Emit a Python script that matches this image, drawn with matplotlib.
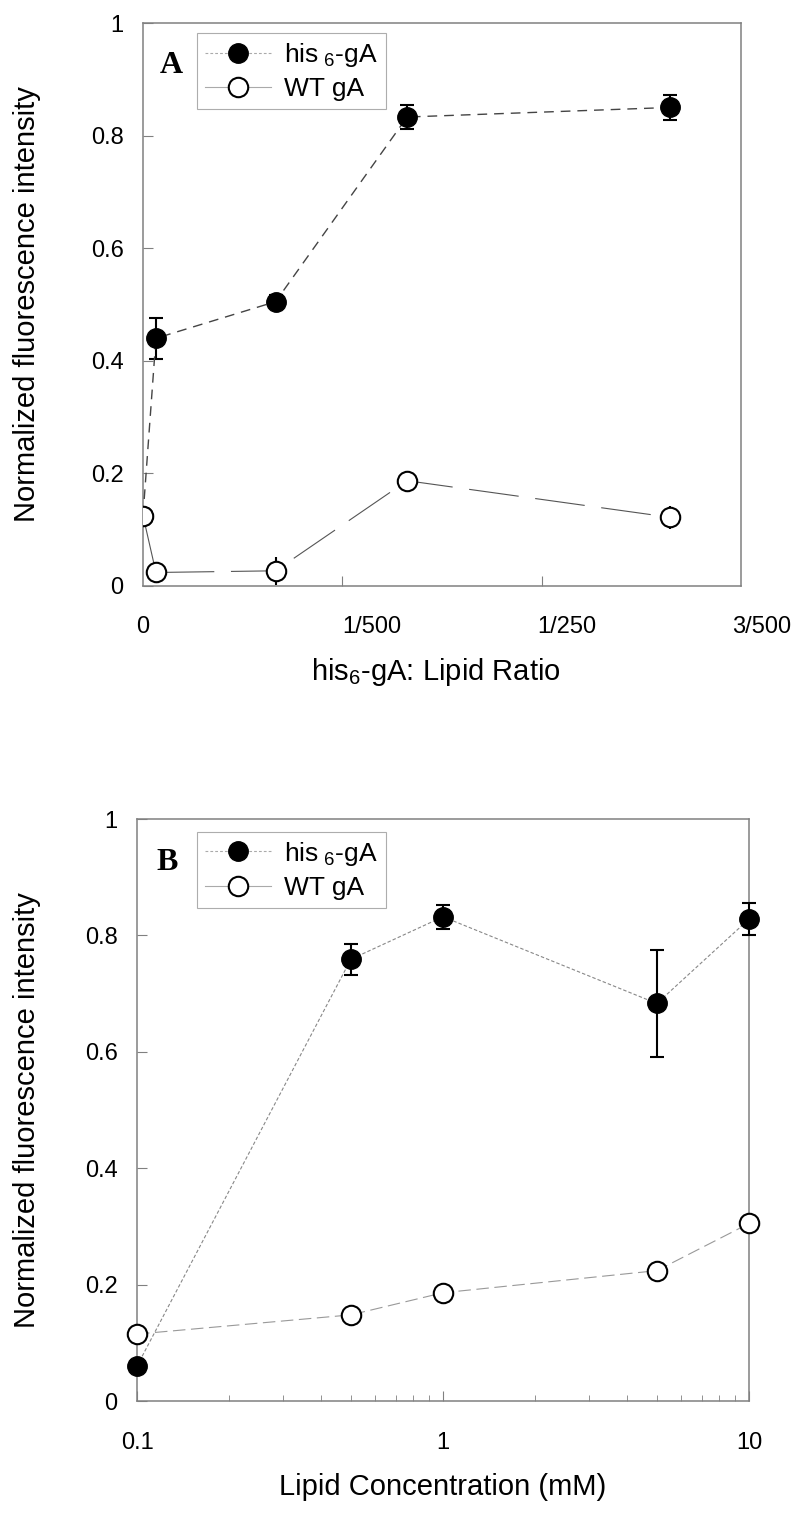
import matplotlib
matplotlib.use('Agg')
from matplotlib import pyplot as plt
from matplotlib.lines import Line2D
from matplotlib.ticker import LogLocator, NullFormatter, FixedLocator

plt.rcParams['font.family'] = ['Liberation Sans', 'DejaVu Sans']
plt.rcParams['mathtext.default'] = 'regular'
plt.rcParams['lines.scale_dashes'] = False

# panel A: his6-gA : lipid ratio
ratio = [0.0, 0.00013, 0.00133, 0.00265, 0.00529]
his_a = [0.125, 0.44, 0.505, 0.833, 0.85]
his_a_err = [0.0, 0.036, 0.012, 0.021, 0.023]
wt_a = [0.125, 0.024, 0.027, 0.187, 0.122]
wt_a_err = [0.0, 0.004, 0.025, 0.005, 0.02]
ratio_ticks = [0.002, 0.004]
ratio_labels = ['0', '1/500', '1/250', '3/500']

# panel B: lipid concentration (mM)
conc = [0.1, 0.5, 1, 5, 10]
his_b = [0.06, 0.759, 0.832, 0.683, 0.828]
his_b_err = [0.01, 0.027, 0.021, 0.092, 0.028]
wt_b = [0.115, 0.148, 0.186, 0.224, 0.305]
wt_b_err = [0.005, 0.005, 0.005, 0.005, 0.005]

ylabel = 'Normalized fluorescence intensity'
SPINE = '#808080'
TICKFS = 17
LABFS = 21

fig = plt.figure(figsize=(8, 15.13), dpi=100)
axA = fig.add_axes([143 / 800, 1 - 586 / 1513, 598 / 800, 563 / 1513])
axB = fig.add_axes([137 / 800, 1 - 1401 / 1513, 612 / 800, 582 / 1513])


def style_axes(ax):
    for s in ax.spines.values():
        s.set_color(SPINE)
        s.set_linewidth(1.1)
    ax.tick_params(which='both', direction='in', top=False, right=False,
                   color=SPINE, labelsize=TICKFS)
    ax.tick_params(axis='y', pad=14)
    ax.tick_params(which='major', length=7, width=0.8)
    ax.tick_params(which='minor', length=4, width=0.6)
    ax.set_ylim(0, 1)
    ax.set_yticks([0, 0.2, 0.4, 0.6, 0.8, 1])
    ax.set_yticklabels(['0', '0.2', '0.4', '0.6', '0.8', '1'])
    ax.set_ylabel(ylabel, fontsize=LABFS)


def legend(ax, x0, top):
    h1 = Line2D([], [], color='#aaaaaa', lw=0.8, dashes=(2, 1.5), marker='o',
                markersize=14, markerfacecolor='black', markeredgecolor='black')
    h2 = Line2D([], [], color='#aaaaaa', lw=0.8, marker='o', markersize=14,
                markerfacecolor='white', markeredgecolor='black', markeredgewidth=1.5)
    leg = ax.legend([h1, h2], ['his$_{\\ 6}$-gA', 'WT gA'], loc='upper left',
                    bbox_to_anchor=(x0, top), borderaxespad=0, fontsize=19,
                    fancybox=False, frameon=True, handlelength=2.5,
                    handletextpad=0.5, borderpad=0.3, labelspacing=0.32)
    leg.get_frame().set_edgecolor('#999999')
    leg.get_frame().set_linewidth(0.8)


# ---- panel A ----
style_axes(axA)
axA.set_xlim(0, 0.006)
axA.xaxis.set_major_locator(FixedLocator(ratio_ticks))
axA.set_xticklabels([])
axA.errorbar(ratio, his_a, yerr=his_a_err, color='#444444', lw=1, dashes=(7, 5),
             marker='o', markersize=14, markerfacecolor='black', markeredgecolor='black',
             ecolor='black', elinewidth=1.5, capsize=5, capthick=1.5, zorder=3)
axA.errorbar(ratio, wt_a, yerr=wt_a_err, color='#555555', lw=0.8, dashes=(36, 12),
             marker='o', markersize=14, markerfacecolor='white', markeredgecolor='black',
             markeredgewidth=1.5, ecolor='black', elinewidth=1.5, capsize=0, zorder=4)
for xf, lab in zip([0.0, 0.383, 0.709, 1.035], ratio_labels):
    axA.text(xf, -0.072, lab, transform=axA.transAxes, ha='center', va='center',
             fontsize=TICKFS)
axA.text(0.49, -0.152, 'his$_6$-gA: Lipid Ratio', transform=axA.transAxes,
         ha='center', va='center', fontsize=LABFS)
axA.text(0.048, 0.925, 'A', transform=axA.transAxes, ha='center', va='center',
         fontsize=23, fontweight='bold', family='Liberation Serif')
legend(axA, 0.09, 0.982)
axA.yaxis.set_label_coords(-0.17, 0.5)

# ---- panel B ----
style_axes(axB)
axB.set_xscale('log')
axB.set_xlim(0.1, 10)
axB.xaxis.set_major_locator(LogLocator(base=10, numticks=10))
axB.xaxis.set_minor_locator(LogLocator(base=10, subs=range(2, 10), numticks=20))
axB.xaxis.set_minor_formatter(NullFormatter())
axB.set_xticks([0.1, 1, 10])
axB.set_xticklabels(['0.1', '1', '10'])
axB.tick_params(axis='x', pad=22)
axB.errorbar(conc, his_b, yerr=his_b_err, color='#888888', lw=0.8, dashes=(2.5, 1.5),
             marker='o', markersize=14, markerfacecolor='black', markeredgecolor='black',
             ecolor='black', elinewidth=1.5, capsize=5, capthick=1.5, zorder=3,
             clip_on=False)
axB.errorbar(conc, wt_b, yerr=wt_b_err, color='#999999', lw=0.8, dashes=(9, 4),
             marker='o', markersize=14, markerfacecolor='white', markeredgecolor='black',
             markeredgewidth=1.5, ecolor='black', elinewidth=1.5, capsize=0, zorder=4,
             clip_on=False)
axB.set_xlabel('Lipid Concentration (mM)', fontsize=LABFS, labelpad=14)
axB.text(0.05, 0.925, 'B', transform=axB.transAxes, ha='center', va='center',
         fontsize=23, fontweight='bold', family='Liberation Serif')
legend(axB, 0.098, 0.978)
axB.yaxis.set_label_coords(-0.157, 0.5)

fig.savefig('out.png', dpi=100)
